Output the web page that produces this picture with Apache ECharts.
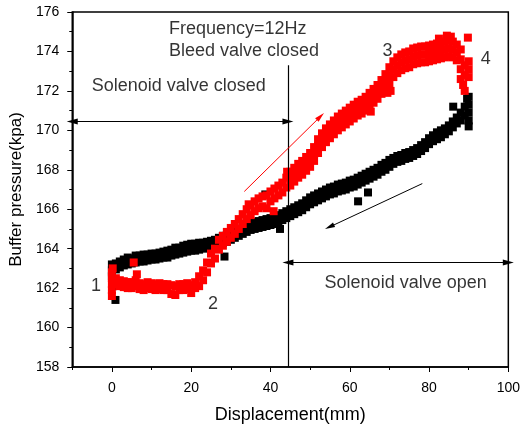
<!DOCTYPE html>
<html>
<head>
<meta charset="utf-8">
<script src="https://cdn.jsdelivr.net/npm/echarts@6/dist/echarts.min.js"></script>
<style>html,body{margin:0;padding:0;background:#fff;}#chart{width:523px;height:429px;}</style>
</head>
<body>
<div id="chart"></div>
<script>
// ---- Data ----
const xTickLabels = [0, 20, 40, 60, 80, 100];
const xMinorTicks = [-10, 10, 30, 50, 70, 90];
const blackPoints = [
[0,162.6],[0,162.9],[0,163.2],[0.3,162.1],[0.9,161.4],
[1,163.25],[1,162.95],[2,163.35],[2,163.05],[3,163.45],[3,163.15],[4,163.55],[4,163.2],[5,163.5],[5,163.25],[6,163.65],[6,163.3],[7,163.65],[7,163.35],[8,163.7],[8,163.35],[9,163.7],[9,163.4],[10,163.75],[10,163.45],[11,163.75],[11,163.45],[12,163.8],[12,163.5],[13,163.85],[13,163.55],[14,163.9],[14,163.55],[15,163.95],[15,163.65],[16,164.05],[16,163.7],[17,164.05],[17,163.75],[18,164.15],[18,163.8],[19,164.2],[19,163.85],[20,164.25],[20,163.9],[21,164.25],[21,163.9],[22,164.3],[22,163.95],[23,164.3],[23,164.0],[24,164.35],[24,164.05],[25,164.4],[25,164.1],[26,164.45],[26,164.15],[27,164.55],[27,164.25],[28,164.65],[28,164.3],[28.4,163.6],[29,164.7],[29,164.35],[30,164.8],[30,164.45],[31,164.9],[31,164.55],[32,165.0],[32,164.65],[33,165.1],[33,164.75],[34,165.2],[34,164.85],[35,165.3],[35,164.95],[36,165.35],[36,165.0],[37,165.4],[37,165.05],[38,165.45],[38,165.1],[38.7,166.75],[39,165.5],[39,165.15],[40,165.55],[40,165.2],[41,165.6],[41,165.25],[42,165.7],[42,165.35],[42.4,165.0],[43,165.8],[43,165.45],[44,165.9],[44,165.55],[45,166.0],[45,165.65],[46,166.1],[46,165.75],[47,166.2],[47,165.85],[48,166.3],[48,165.95],[49,166.45],[49,166.1],[50,166.6],[50,166.25],[51,166.7],[51,166.35],[52,166.8],[52,166.45],[53,166.9],[53,166.55],[54,167.0],[54,166.65],[55,167.1],[55,166.75],[56,167.15],[56,166.8],[57,167.25],[57,166.9],[58,167.3],[58,166.95],[59,167.35],[59,167.0],[60,167.45],[60,167.1],[61,167.5],[61,167.15],[62,167.6],[62,167.25],[62.1,166.4],[63,167.7],[63,167.35],[64,167.8],[64,167.45],[64.6,166.85],[65,167.9],[65,167.55],[66,168.0],[66,167.65],[67,168.1],[67,167.75],[68,168.25],[68,167.9],[69,168.35],[69,168.0],[70,168.5],[70,168.15],[71,168.6],[71,168.3],[72,168.7],[72,168.4],[73,168.75],[73,168.45],[74,168.85],[74,168.55],[75,168.9],[75,168.6],[76,169.0],[76,168.7],[77,169.1],[77,168.8],[78,169.25],[78,168.95],[79,169.4],[79,169.1],[80,169.6],[80,169.3],[81,169.75],[81,169.45],[82,169.9],[82,169.55],[83,170.0],[83,169.65],[84,170.1],[84,169.8],[85,170.25],[85,169.95],[86,170.45],[86,170.15],[86.1,171.2],[87,170.65],[87,170.35],[88,170.9],[88,170.5],[89,171.2],[89,170.75],[89.6,171.6],[90,171.7],[90,171.3],[90,170.9],[90,170.5],[90,170.2]
];
const redPoints = [
[0,161.6],[0,161.9],[0,162.2],[0,162.5],[0,162.8],[0.2,163.0],
[1,162.5],[1,162.2],[2,162.4],[2,162.1],[3,162.35],[3,162.05],[4,162.3],[4,162.0],[5,162.3],[5,162.0],[5.5,163.3],[6,162.4],[6,162.1],[6.3,162.7],[7,162.25],[7,161.95],[8,162.2],[8,161.9],[9,162.3],[9,162.0],[10,162.25],[10,161.95],[11,162.2],[11,161.9],[12,162.25],[12,161.95],[13,162.2],[13,161.9],[14,162.2],[14,161.9],[15,162.15],[15,161.7],[16,162.1],[16,161.65],[17,162.2],[17,161.9],[18,162.2],[18,161.9],[19,162.25],[19,161.95],[20,162.15],[20,161.75],[21,162.3],[21,162.0],
[22,162.6],[22,162.1],[23,162.9],[23,162.4],[24,163.3],[24,162.8],[25,163.75],[25,163.25],[26,164.0],[26,163.5],[27,164.45],[27,163.95],[28,164.65],[28,164.15],[29,164.85],[29,164.35],[30,165.05],[30,164.55],[31,165.25],[31,164.75],[32,165.5],[32,165.0],[33,165.75],[33,165.25],[34,166.0],[34,165.5],[34.5,166.25],[35,166.2],[35,165.7],[36,166.4],[36,165.9],[37,166.55],[37,166.05],[38,166.65],[38,166.15],[39,166.7],[39,166.05],[40,166.9],[40,166.4],[40.8,165.9],[41,167.05],[41,166.55],[42,167.2],[42,166.7],[43,167.35],[43,166.85],[44,167.6],[44,167.1],[44.2,167.9],
[45,167.9],[45,167.55],[45,167.2],[46,168.1],[46,167.75],[46,167.4],[47,168.3],[47,167.95],[47,167.6],[48,168.45],[48,168.1],[48,167.75],[49,168.65],[49,168.3],[49,167.95],[50,168.85],[50,168.5],[50,168.15],[51,169.15],[51,168.8],[51,168.45],[52,169.55],[52,169.2],[52,168.85],[53,169.85],[53,169.5],[53,169.15],[54,170.1],[54,169.75],[54,169.4],[55,170.3],[55,169.95],[55,169.6],[56,170.5],[56,170.15],[56,169.8],[57,170.7],[57,170.35],[57,170.0],[58,170.85],[58,170.5],[58,170.15],[59,171.0],[59,170.65],[59,170.3],[60,171.15],[60,170.8],[60,170.45],[61,171.3],[61,170.95],[61,170.6],[62,171.45],[62,171.1],[62,170.75],[63,171.55],[63,171.2],[63,170.85],[64,171.7],[64,171.35],[64,171.0],[65,171.9],[65,171.55],[65,171.2],[65.3,170.95],[66,172.1],[66,171.75],[66,171.4],[67,172.3],[67,171.95],[67,171.6],[68,172.55],[68,172.2],[68,171.85],[69,172.85],[69,172.5],[69,172.15],[69.5,171.9],[70.3,172.0],
[70,173.2],[70,172.8],[70,172.4],[71,173.5],[71,173.1],[71,172.7],[72,173.7],[72,173.3],[72,172.9],[73,173.85],[73,173.45],[73,173.05],[74,173.95],[74,173.55],[74,173.15],[75,174.0],[75,173.6],[75,173.2],[76,174.15],[76,173.75],[76,173.35],[77,174.2],[77,173.8],[77,173.4],[78,174.25],[78,173.85],[78,173.45],[79,174.25],[79,173.85],[79,173.45],[80,174.3],[80,173.9],[80,173.5],[81,174.35],[81,173.95],[81,173.55],[82,174.4],[82,174.0],[82,173.6],[82.5,174.65],[83,174.45],[83,174.05],[83,173.65],[84,174.5],[84,174.1],[84,173.7],[84.5,174.8],[85,174.55],[85,174.15],[85,173.75],[85.5,174.75],[86,174.5],[86,174.1],[86,173.7],[87,174.35],[87,173.95],[87,173.55],
[88,174.1],[88,173.6],[88,173.1],[88,172.6],[88.6,172.3],[89,173.3],[89,172.8],[89,172.0],[89.8,174.7],[90,173.5],[90,173.1],[90,172.7]
];
const noteTexts = ['Frequency=12Hz', 'Bleed valve closed', 'Solenoid valve closed', 'Solenoid valve open'];
const noteAnchors = [[14.25, 175.12], [14.25, 174.0], [16.85, 172.27], [74.1, 162.28]];
const pointLabels = ['1', '2', '3', '4'];
const pointLabelAnchors = [[-4.0, 162.12], [25.5, 161.2], [69.5, 174.0], [94.3, 173.6]];
const valveSwitchX = 44.4;
const closedSpanY = 170.45;
const openSpanY = 163.3;
const redArrow = [[33.4, 166.9], [52.6, 170.7]];
const blackArrow = [[78.3, 167.3], [54.9, 165.1]];

// ---- Chart ----
const FONT = 'Liberation Sans, Arial, sans-serif';
const chart = echarts.init(document.getElementById('chart'), null, {renderer: 'canvas'});

const noteData = noteTexts.map((t, i) => ({
  value: noteAnchors[i], name: t,
  label: {position: i < 2 ? 'right' : 'inside', distance: 0}
}));
const numData = pointLabels.map((t, i) => ({value: pointLabelAnchors[i], name: t}));

chart.setOption({
  animation: false,
  backgroundColor: '#fff',
  grid: {left: 68, right: 14, top: 12, bottom: 60, show: true, borderColor: '#000', borderWidth: 1.5, backgroundColor: 'transparent'},
  xAxis: [{
    type: 'value', min: -10, max: 100,
    name: 'Displacement(mm)', nameLocation: 'middle', nameGap: 39,
    nameTextStyle: {fontFamily: FONT, fontSize: 18, color: '#000'},
    axisLine: {show: true, onZero: false, lineStyle: {color: '#000', width: 1.5}},
    axisTick: {show: true, length: 5, customValues: xTickLabels, lineStyle: {color: '#000', width: 1}},
    axisLabel: {customValues: xTickLabels, fontFamily: FONT, fontSize: 14, color: '#000', margin: 14},
    splitLine: {show: false}
  }, {
    type: 'value', min: -10, max: 100, position: 'bottom',
    axisLine: {show: false, onZero: false},
    axisTick: {show: true, length: 3, customValues: xMinorTicks, lineStyle: {color: '#000', width: 1}},
    axisLabel: {show: false},
    splitLine: {show: false}
  }],
  yAxis: {
    type: 'value', min: 158, max: 176, interval: 2,
    name: 'Buffer pressure(kpa)', nameLocation: 'middle', nameGap: 43,
    nameTextStyle: {fontFamily: FONT, fontSize: 17, color: '#000'},
    axisLine: {show: true, onZero: false, lineStyle: {color: '#000', width: 1.5}},
    axisTick: {show: true, length: 5, lineStyle: {color: '#000', width: 1}},
    minorTick: {show: true, splitNumber: 2, length: 3, lineStyle: {color: '#000', width: 1}},
    axisLabel: {fontFamily: FONT, fontSize: 14, color: '#000', margin: 13},
    splitLine: {show: false}
  },
  series: [{
    type: 'scatter', name: 'return', data: blackPoints,
    symbol: 'rect', symbolSize: 8, itemStyle: {color: '#000', opacity: 1}, z: 2
  }, {
    type: 'scatter', name: 'stroke', data: redPoints,
    symbol: 'rect', symbolSize: 8, itemStyle: {color: '#ff0000', opacity: 1}, z: 3
  }, {
    type: 'scatter', name: 'annotations', data: [], z: 5,
    markLine: {
      silent: true, animation: false,
      label: {show: false},
      emphasis: {disabled: true},
      data: [
        [{coord: [valveSwitchX, 158], symbol: 'none', lineStyle: {color: '#000', width: 1.2, type: 'solid'}},
         {coord: [valveSwitchX, 173.3], symbol: 'none'}],
        [{coord: [-10, closedSpanY], symbol: 'triangle', symbolSize: [6, 11], lineStyle: {color: '#000', width: 1, type: 'solid'}},
         {coord: [valveSwitchX, closedSpanY], symbol: 'triangle', symbolSize: [6, 11]}],
        [{coord: [valveSwitchX, openSpanY], symbol: 'triangle', symbolSize: [6, 11], lineStyle: {color: '#000', width: 1, type: 'solid'}},
         {coord: [100, openSpanY], symbol: 'triangle', symbolSize: [6, 11]}],
        [{coord: redArrow[0], symbol: 'none', lineStyle: {color: '#ff0000', width: 1, type: 'solid'}},
         {coord: redArrow[1], symbol: 'triangle', symbolSize: [5, 10]}],
        [{coord: blackArrow[0], symbol: 'none', lineStyle: {color: '#000', width: 1, type: 'solid'}},
         {coord: blackArrow[1], symbol: 'triangle', symbolSize: [5, 10]}]
      ]
    }
  }, {
    type: 'scatter', name: 'notes', data: noteData, z: 6,
    symbolSize: 1, itemStyle: {color: 'transparent'},
    label: {show: true, formatter: p => p.name, fontFamily: FONT, fontSize: 18, color: '#000'}
  }, {
    type: 'scatter', name: 'numbers', data: numData, z: 6,
    symbolSize: 1, itemStyle: {color: 'transparent'},
    label: {show: true, position: 'inside', formatter: p => p.name, fontFamily: FONT, fontSize: 18, color: '#000'}
  }]
});
</script>
</body>
</html>
